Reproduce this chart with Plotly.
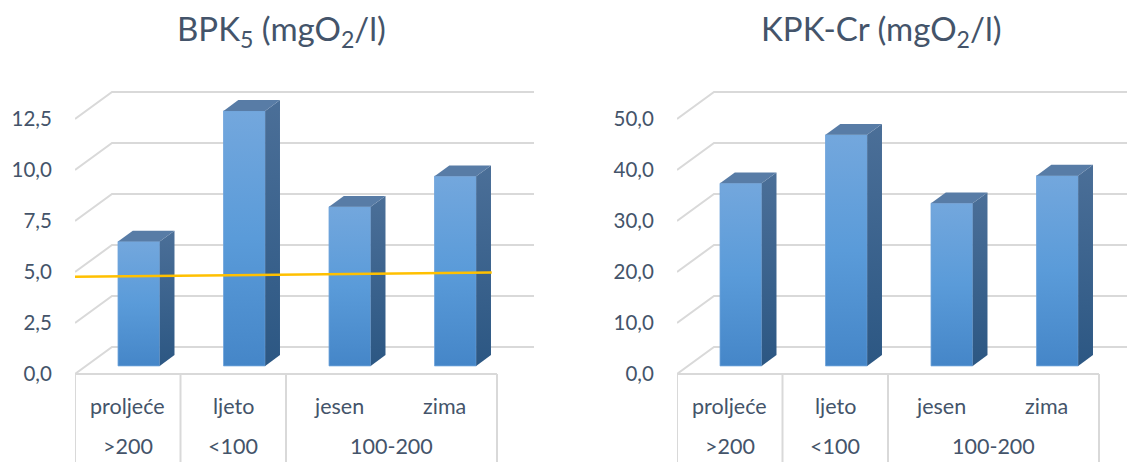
import plotly.graph_objects as go

# ---- data ----
sezone = ["proljeće", "ljeto", "jesen", "zima"]
protok = [">200", "<100", "100-200"]
protok_raspon = [1, 1, 2]          # how many seasons each flow group spans
bpk5 = [6.1, 12.5, 7.8, 9.3]
kpk_cr = [35.8, 45.3, 31.9, 37.3]
granica_bpk5 = [4.77, 4.97]        # limit line, start / end value
granica_x = [0.0, 3.95]
bpk5_ticks = [0, 2.5, 5, 7.5, 10, 12.5]
kpk_ticks = [0, 10, 20, 30, 40, 50]

# ---- layout geometry (pixels) ----
W, H = 1127, 462
CAT_PX = 105.5          # width of one category on the front floor
FLOOR_Y = 374           # pixel row of the front floor (value 0)
DEPTH_DX, DEPTH_DY = 37, 27   # oblique offset from front to back wall
BAR_FRONT = 0.3         # bar front plane as fraction of depth
BAR_DEPTH = 0.4         # bar depth as fraction of depth
BAR_W = 0.395           # bar width in category units

TXT = "#44546a"
GRID = "#d9d9d9"
FONT = "Lato"

panels = [
    dict(x0=75, x1=575, ppu=20.4, vals=bpk5, ticks=bpk5_ticks,
         title="BPK<sub>5</sub> (mgO<sub>2</sub>/l)", title_x=281),
    dict(x0=677, x1=W, ppu=5.1, vals=kpk_cr, ticks=kpk_ticks,
         title="KPK-Cr (mgO<sub>2</sub>/l)", title_x=881),
]

fig = go.Figure()
annotations = []

FRONT_SCALE = [[0, "#4586c8"], [0.5, "#5a9bd9"], [1, "#73a7dd"]]
SIDE_SCALE = [[0, "#2c5783"], [1, "#4b6f98"]]
TOP_COLOR = "#587ca6"

for k, p in enumerate(panels, start=1):
    xa = "x" if k == 1 else f"x{k}"
    ya = "y" if k == 1 else f"y{k}"
    dxu = DEPTH_DX / CAT_PX
    dyu = DEPTH_DY / p["ppu"]
    ymin = (FLOOR_Y - H) / p["ppu"]
    n = len(p["vals"])

    # back wall grid with oblique connectors to the front
    gx, gy = [], []
    for t in p["ticks"]:
        gx += [0, dxu, n + dxu, None]
        gy += [t, t + dyu, t + dyu, None]
    fig.add_trace(go.Scatter(x=gx, y=gy, mode="lines", xaxis=xa, yaxis=ya,
                             line=dict(color=GRID, width=2), hoverinfo="skip",
                             showlegend=False))

    # category table: floor edge and vertical separators
    tx, ty = [0, n, None], [0, 0, None]
    edges = [0]
    for span in protok_raspon:
        edges.append(edges[-1] + span)
    for e in edges:
        tx += [e, e, None]
        ty += [0, ymin, None]
    fig.add_trace(go.Scatter(x=tx, y=ty, mode="lines", xaxis=xa, yaxis=ya,
                             line=dict(color=GRID, width=2), hoverinfo="skip",
                             showlegend=False))

    # 3D columns: front, side and top faces
    b0 = BAR_FRONT * dyu
    ox, oy = BAR_DEPTH * dxu, BAR_DEPTH * dyu
    for i, v in enumerate(p["vals"]):
        c = i + 0.5 + BAR_FRONT * dxu
        xl, xr = c - BAR_W / 2, c + BAR_W / 2
        top = b0 + v
        fig.add_trace(go.Scatter(
            x=[xl, xr, xr, xl, xl], y=[b0, b0, top, top, b0],
            mode="lines", fill="toself", xaxis=xa, yaxis=ya,
            line=dict(width=0.8, color="#6ea3db"),
            fillgradient=dict(type="vertical", colorscale=FRONT_SCALE),
            hovertext=f"{sezone[i]}: {v}", hoverinfo="text", showlegend=False))
        fig.add_trace(go.Scatter(
            x=[xr, xr + ox, xr + ox, xr, xr],
            y=[b0, b0 + oy, top + oy, top, b0],
            mode="lines", fill="toself", xaxis=xa, yaxis=ya,
            line=dict(width=0), hoverinfo="skip",
            fillgradient=dict(type="vertical", colorscale=SIDE_SCALE),
            showlegend=False))
        fig.add_trace(go.Scatter(
            x=[xl, xr, xr + ox, xl + ox, xl],
            y=[top, top, top + oy, top + oy, top],
            mode="lines", fill="toself", xaxis=xa, yaxis=ya,
            line=dict(width=0), fillcolor=TOP_COLOR, hoverinfo="skip",
            showlegend=False))

    if k == 1:
        fig.add_trace(go.Scatter(x=granica_x, y=granica_bpk5, mode="lines",
                                 xaxis=xa, yaxis=ya,
                                 line=dict(color="#ffc000", width=2.5),
                                 hoverinfo="skip", showlegend=False))

    # axes
    xr_max = (p["x1"] - p["x0"]) / CAT_PX
    fig.layout[("xaxis" if k == 1 else f"xaxis{k}")] = dict(
        domain=[p["x0"] / W, p["x1"] / W], range=[0, xr_max],
        showgrid=False, zeroline=False, showticklabels=False, showline=False,
        anchor=ya, fixedrange=True)
    fig.layout[("yaxis" if k == 1 else f"yaxis{k}")] = dict(
        domain=[0, 1], range=[ymin, FLOOR_Y / p["ppu"]],
        showgrid=False, zeroline=False, showline=False,
        tickvals=p["ticks"],
        ticktext=[f"{t:.1f}".replace(".", ",") for t in p["ticks"]],
        ticks="outside", ticklen=18, tickcolor="rgba(0,0,0,0)",
        tickfont=dict(family=FONT, size=20.5, color=TXT),
        anchor=xa, automargin=False, fixedrange=True)

    # category labels
    for i, s in enumerate(sezone):
        annotations.append(dict(x=i + 0.5, y=1 - 406 / H, xref=xa, yref="paper",
                                text=s, showarrow=False, yanchor="middle",
                                font=dict(family=FONT, size=21.5, color=TXT)))
    start = 0
    for g, span in zip(protok, protok_raspon):
        annotations.append(dict(x=start + span / 2, y=1 - 460 / H, xref=xa,
                                yref="paper", text=g, showarrow=False,
                                yanchor="bottom", borderpad=0,
                                font=dict(family=FONT, size=21.5, color=TXT)))
        start += span

    annotations.append(dict(x=p["title_x"] / W, y=1 - 30 / H, xref="paper",
                            yref="paper", text=p["title"], showarrow=False,
                            xanchor="center", yanchor="middle",
                            font=dict(family=FONT, size=33, color=TXT)))

fig.update_layout(
    width=W, height=H,
    margin=dict(l=0, r=0, t=0, b=0, pad=0),
    paper_bgcolor="white", plot_bgcolor="white",
    annotations=annotations, showlegend=False,
)

fig.write_html("out.html")
